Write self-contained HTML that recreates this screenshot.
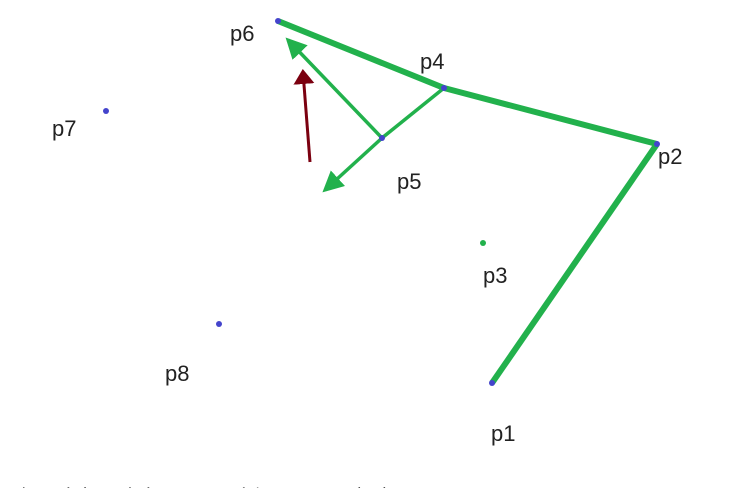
<!DOCTYPE html>
<html><head><meta charset="utf-8"><style>
html,body{margin:0;padding:0;background:#fff;width:749px;height:488px;overflow:hidden}
svg{display:block}
text{font-family:"Liberation Sans","DejaVu Sans",sans-serif;font-size:22px;fill:#222}
</style></head><body>
<svg width="749" height="488">
<defs>
<marker id="gh" markerWidth="6" markerHeight="6" refX="5" refY="3" orient="auto" markerUnits="strokeWidth"><path d="M0,0 L6,3 L0,6 z" fill="#22b14c"/></marker>
<marker id="rh" markerWidth="5" markerHeight="7" refX="4" refY="3.5" orient="auto" markerUnits="strokeWidth"><path d="M0,0 L5,3.5 L0,7 z" fill="#7b0010"/></marker>
</defs>
<g id="edges"></g>
<g id="pts"></g>
<text x="0" y="504" style="font-size:20px;fill:#555">已知现在机器人在 P_i P_j 之间，下一目标点…</text>
</svg>
<script>
const names=["p1","p2","p3","p4","p5","p6","p7","p8"];
const xs=[492,657,483,444,382,278,106,219];
const ys=[383,144,243,88,138,21,111,324];
const labelDx=[-1,1,0,-24,15,-48,-54,-54];
const labelDy=[58,20,40,-19,51,20,25,57];
const NS="http://www.w3.org/2000/svg";
const E=document.getElementById("edges"),P=document.getElementById("pts");
function ln(a,b,w,c,m,dash){const l=document.createElementNS(NS,"line");
l.setAttribute("x1",a[0]);l.setAttribute("y1",a[1]);l.setAttribute("x2",b[0]);l.setAttribute("y2",b[1]);
l.setAttribute("stroke",c);l.setAttribute("stroke-width",w);if(m)l.setAttribute("marker-end","url(#"+m+")");
if(dash)l.setAttribute("stroke-dasharray",dash);E.appendChild(l);return l;}
const pt=i=>[xs[i],ys[i]];
let l;
l=ln(pt(0),pt(1),6,"#22b14c");


l=ln(pt(1),pt(3),6,"#22b14c");


l=ln(pt(3),pt(5),6,"#22b14c");


l=ln(pt(4),[xs[5]+10,ys[5]+19],3.5,"#22b14c","gh");


l=ln(pt(3),pt(4),3.5,"#22b14c");


l=ln(pt(4),[325,190],3.5,"#22b14c","gh");


l=ln([310,162],[303,72],3,"#7b0010","rh");


for(let i=0;i<names.length;i++){
 const c=document.createElementNS(NS,"circle");
 c.setAttribute("cx",xs[i]);c.setAttribute("cy",ys[i]);c.setAttribute("r",3);c.setAttribute("fill",i===2?"#22b14c":"#4444cc");
 
 
 P.appendChild(c);
 const t=document.createElementNS(NS,"text");
 t.setAttribute("x",xs[i]+labelDx[i]);t.setAttribute("y",ys[i]+labelDy[i]);t.textContent=names[i];
 
 
 P.appendChild(t);
}
</script>
</body></html>
